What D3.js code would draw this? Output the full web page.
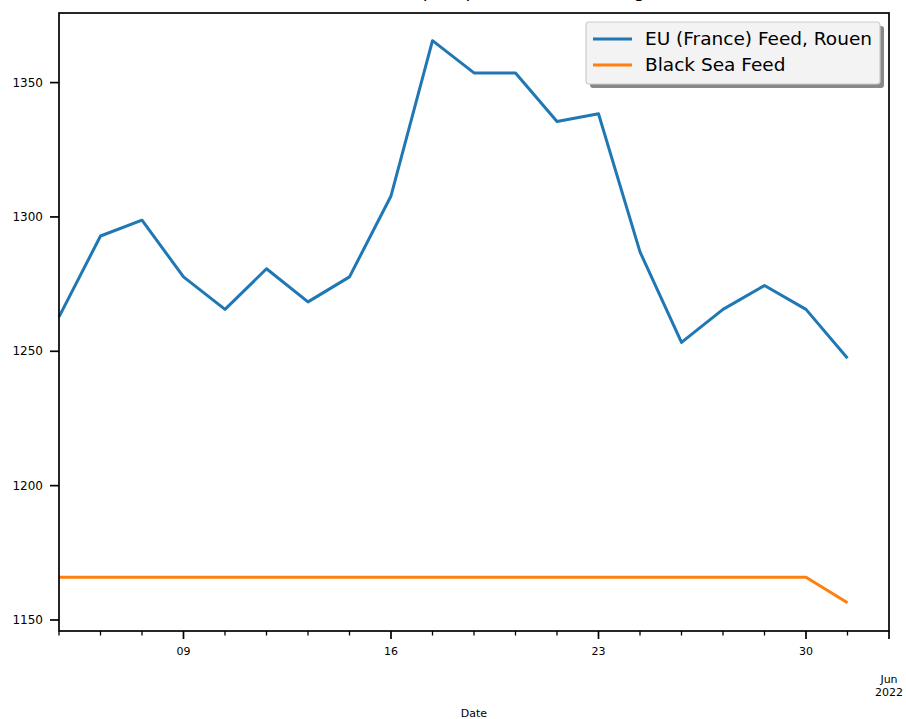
<!DOCTYPE html>
<html><head><meta charset="utf-8">
<script src="https://cdn.jsdelivr.net/npm/d3@7"></script>
<style>body{margin:0;background:#fff}svg{display:block;font-family:"DejaVu Sans",sans-serif}</style>
</head><body><svg id="c" width="906" height="719"></svg>
<script>
const dates = ["2022-05-04","2022-05-05","2022-05-06","2022-05-09","2022-05-10","2022-05-11","2022-05-12","2022-05-13","2022-05-16","2022-05-17","2022-05-18","2022-05-19","2022-05-20","2022-05-23","2022-05-24","2022-05-25","2022-05-26","2022-05-27","2022-05-30","2022-05-31"];
const euFeed = [1262.8,1292.9,1298.8,1277.7,1265.6,1280.7,1268.4,1277.7,1307.8,1365.6,1353.6,1353.6,1335.5,1338.4,1287.0,1253.3,1265.6,1274.5,1265.6,1247.4];
const blackSea = [1165.9,1165.9,1165.9,1165.9,1165.9,1165.9,1165.9,1165.9,1165.9,1165.9,1165.9,1165.9,1165.9,1165.9,1165.9,1165.9,1165.9,1165.9,1165.9,1156.4];
const seriesNames = ["EU (France) Feed, Rouen","Black Sea Feed"];
const yTicks = [1150,1200,1250,1300,1350];
const majorTickIdx = [3,8,13,18,20];
const majorTickLabels = ["09","16","23","30","Jun\n2022"];
const titleText = "Feed wheat export prices, USD, Tonnage";
const xLabel = "Date";

const svg = d3.select("#c");
const L=59,R=889,T=13,B=631;
const x = d3.scaleLinear().domain([0,20]).range([L,R]);
const yMin = 1145.9, yMax = 1375.9;
const y = d3.scaleLinear().domain([yMin,yMax]).range([B,T]);

// title (mostly cut off by the top edge, as in the reference)
svg.append("text").attr("x",(L+R)/2).attr("y",-3).attr("text-anchor","middle")
  .attr("font-size",18).attr("fill","#000").text(titleText);

// lines
const line = d3.line().x((d,i)=>x(i)).y(d=>y(d));
const colors = ["#1f77b4","#ff7f0e"];
[euFeed,blackSea].forEach((s,k)=>{
  svg.append("path").datum(s).attr("d",line).attr("fill","none")
    .attr("stroke",colors[k]).attr("stroke-width",3).attr("stroke-linejoin","round");
});

// spines
svg.append("rect").attr("x",L).attr("y",T).attr("width",R-L).attr("height",B-T)
  .attr("fill","none").attr("stroke","#000").attr("stroke-width",1.7);

// y axis
const gy = svg.append("g");
yTicks.forEach(v=>{
  gy.append("line").attr("x1",L-9).attr("x2",L).attr("y1",y(v)).attr("y2",y(v)).attr("stroke","#000").attr("stroke-width",1.7);
  gy.append("text").attr("x",L-16).attr("y",y(v)).attr("dy","0.35em").attr("text-anchor","end")
    .attr("font-size",12).attr("fill","#000").text(v);
});

// x minor ticks
d3.range(0,21).forEach(i=>{
  if (majorTickIdx.includes(i)) return;
  svg.append("line").attr("x1",x(i)).attr("x2",x(i)).attr("y1",B).attr("y2",B+4.5).attr("stroke","#000").attr("stroke-width",1.3);
});
majorTickIdx.forEach((i,k)=>{
  svg.append("line").attr("x1",x(i)).attr("x2",x(i)).attr("y1",B).attr("y2",B+8).attr("stroke","#000").attr("stroke-width",1.7);
  const lines = majorTickLabels[k].split("\n");
  const t = svg.append("text").attr("text-anchor","middle").attr("font-size",11).attr("fill","#000");
  const y0 = lines.length>1 ? 683 : 655;
  lines.forEach((s,j)=>t.append("tspan").attr("x",x(i)).attr("y",y0+j*13).text(s));
});
svg.append("text").attr("x",474).attr("y",717).attr("text-anchor","middle").attr("font-size",11).attr("fill","#000").text(xLabel);

// legend
const lg = svg.append("g");
const lx=586, ly=22, lw=294, lh=62;
lg.append("rect").attr("x",lx+4).attr("y",ly+4).attr("width",lw).attr("height",lh).attr("rx",3).attr("fill","#888");
lg.append("rect").attr("x",lx).attr("y",ly).attr("width",lw).attr("height",lh).attr("rx",3).attr("fill","#f3f3f3").attr("stroke","#cccccc").attr("stroke-width",1.2);
seriesNames.forEach((n,k)=>{
  const yy = ly+17+k*26;
  lg.append("line").attr("x1",lx+7).attr("x2",lx+46).attr("y1",yy).attr("y2",yy).attr("stroke",colors[k]).attr("stroke-width",3);
  lg.append("text").attr("x",lx+59).attr("y",yy).attr("dy","0.35em").attr("font-size",18.5).attr("fill","#000").text(n);
});
</script></body></html>
